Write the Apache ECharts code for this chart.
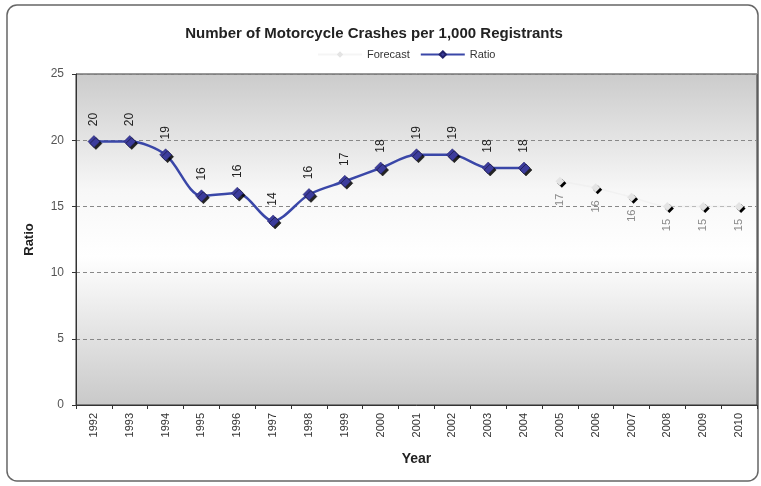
<!DOCTYPE html>
<html>
<head>
<meta charset="utf-8">
<script src="https://cdn.jsdelivr.net/npm/echarts@6/dist/echarts.min.js"></script>
<style>
  html, body { margin: 0; padding: 0; background: #fff; }
  #chart { width: 761px; height: 486px; }
</style>
</head>
<body>
<div id="chart"></div>
<script>
// data
const years = ['1992', '1993', '1994', '1995', '1996', '1997', '1998', '1999', '2000', '2001',
  '2002', '2003', '2004', '2005', '2006', '2007', '2008', '2009', '2010']
const ratio = [19.9, 19.9, 18.9, 15.8, 16.0, 13.9, 15.9, 16.9, 17.9, 18.9, 18.9, 17.9, 17.9,
  null, null, null, null, null, null]
const forecast = [null, null, null, null, null, null, null, null, null, null, null, null, null,
  16.9, 16.4, 15.7, 15.0, 15.0, 15.0]
const yTicks = [0, 5, 10, 15, 20, 25]

const chart = echarts.init(document.getElementById('chart'))

const option = {
  backgroundColor: '#fff',
  animation: false,
  textStyle: { fontFamily: 'Liberation Sans, Arial, sans-serif' },
  graphic: [
    {
      type: 'rect',
      shape: { x: 7, y: 5, width: 751, height: 476, r: 10 },
      style: { fill: 'none', stroke: '#666', lineWidth: 1.5 },
      z: -1
    }
  ],
  title: {
    text: 'Number of Motorcycle Crashes per 1,000 Registrants',
    left: 369,
    top: 21,
    textAlign: 'center',
    textStyle: { fontSize: 15, fontWeight: 'bold', color: '#222' }
  },
  legend: {
    top: 44,
    left: 312,
    itemWidth: 44,
    itemHeight: 8,
    itemGap: 10,
    textStyle: { fontSize: 11, color: '#333' },
    data: ['Forecast', 'Ratio']
  },
  grid: {
    left: 76,
    right: 4,
    top: 74,
    bottom: 81,
    show: true,
    borderColor: '#333',
    borderWidth: 1,
    backgroundColor: {
      type: 'linear', x: 0, y: 0, x2: 0, y2: 1,
      colorStops: [
        { offset: 0, color: '#cbcbcb' },
        { offset: 0.35, color: '#f7f7f7' },
        { offset: 0.55, color: '#ffffff' },
        { offset: 1, color: '#c9c9c9' }
      ]
    }
  },
  xAxis: {
    type: 'category',
    data: years,
    boundaryGap: true,
    name: 'Year',
    nameLocation: 'middle',
    nameGap: 47,
    nameTextStyle: { fontSize: 14, fontWeight: 'bold', color: '#222' },
    axisLine: { lineStyle: { color: '#333', width: 1 } },
    axisTick: { show: true, alignWithLabel: false, length: 4, lineStyle: { color: '#333' } },
    axisLabel: { rotate: 90, fontSize: 11, color: '#333', interval: 0, margin: 8 },
    splitLine: { show: false }
  },
  yAxis: {
    type: 'value',
    min: yTicks[0],
    max: yTicks[yTicks.length - 1],
    interval: 5,
    name: 'Ratio',
    nameLocation: 'middle',
    nameGap: 40,
    nameTextStyle: { fontSize: 13, fontWeight: 'bold', color: '#222' },
    axisLine: { show: true, lineStyle: { color: '#333', width: 1 } },
    axisTick: { show: true, length: 4, lineStyle: { color: '#333' } },
    axisLabel: { fontSize: 12, color: '#555', margin: 12 },
    splitLine: { lineStyle: { type: [4, 3], color: '#888', width: 1 } }
  },
  series: [
    {
      name: 'Forecast',
      type: 'line',
      data: forecast,
      smooth: 0.3,
      symbol: 'diamond',
      symbolSize: 9,
      lineStyle: { color: 'rgba(235,235,235,0.5)', width: 1.5 },
      itemStyle: {
        color: '#e4e4e4',
        shadowColor: '#000',
        shadowBlur: 0,
        shadowOffsetX: 2,
        shadowOffsetY: 2
      },
      label: {
        show: true,
        position: 'bottom',
        distance: 8,
        rotate: 90,
        align: 'right',
        verticalAlign: 'middle',
        fontSize: 11,
        color: '#888',
        formatter: p => Math.round(p.value)
      },
      z: 3
    },
    {
      name: 'Ratio',
      type: 'line',
      data: ratio,
      smooth: 0.3,
      symbol: 'diamond',
      symbolSize: 12,
      lineStyle: { color: '#3a47a8', width: 2.5 },
      itemStyle: {
        color: '#3c3c9c',
        borderColor: '#22226a',
        borderWidth: 0.5,
        shadowColor: 'rgba(0,0,0,0.85)',
        shadowBlur: 0,
        shadowOffsetX: 2,
        shadowOffsetY: 2
      },
      label: {
        show: true,
        position: 'top',
        distance: 9,
        rotate: 90,
        align: 'left',
        verticalAlign: 'middle',
        fontSize: 12,
        color: '#222',
        formatter: p => Math.round(p.value)
      },
      z: 4
    }
  ]
}

chart.setOption(option)
</script>
</body>
</html>
